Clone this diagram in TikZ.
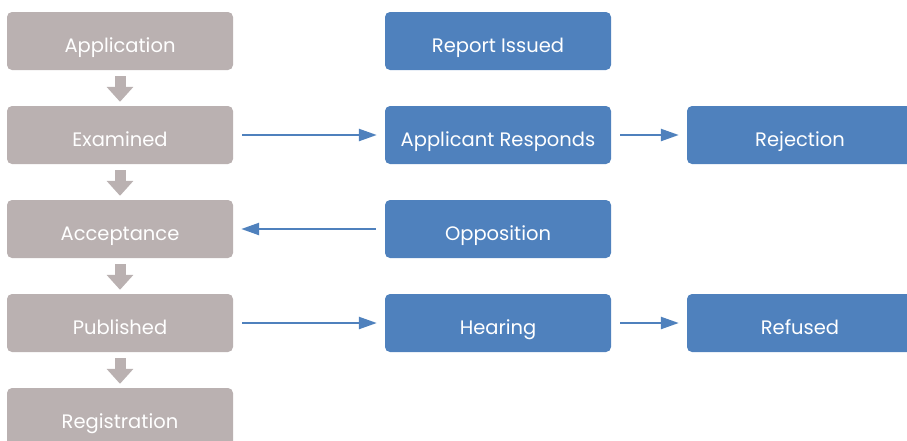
\documentclass[tikz,border=0pt]{standalone}
\usepackage{fontspec}
\setmainfont{Poppins}
\usetikzlibrary{arrows.meta}
\definecolor{boxgray}{HTML}{BAB1B1}
\definecolor{boxblue}{HTML}{4F81BD}
\tikzset{
  gbox/.style={fill=boxgray, rounded corners=5pt, minimum width=226pt, minimum height=58pt, inner sep=0pt, text=white, text height=24pt, text depth=2pt, font=\fontsize{19.5}{22}\selectfont},
  bbox/.style={gbox, fill=boxblue},
  downarr/.style={draw=boxgray, line width=11pt, -{Triangle[length=15pt,width=26pt]}, shorten <=6pt, shorten >=4pt},
  harr/.style={draw=boxblue, line width=2.4pt, -{Triangle[length=18pt,width=12pt]}, shorten <=9pt, shorten >=8pt},
}
\begin{document}
\begin{tikzpicture}[x=1pt,y=-1pt]
\useasboundingbox (0,0) rectangle (907,440);
\clip (0,0) rectangle (907,440);
\node[gbox] (app) at (120,41) {Application};
\node[gbox] (exam) at (120,135) {Examined};
\node[gbox] (acc) at (120,229) {Acceptance};
\node[gbox] (pub) at (120,323) {Published};
\node[gbox] (reg) at (120,417) {Registration};
\node[bbox] (rep) at (498,41) {Report Issued};
\node[bbox] (resp) at (498,135) {Applicant Responds};
\node[bbox] (opp) at (498,229) {Opposition};
\node[bbox] (hear) at (498,323) {Hearing};
\node[bbox] (rej) at (800,135) {Rejection};
\node[bbox] (ref) at (800,323) {Refused};
\draw[downarr] (app) -- (exam);
\draw[downarr] (exam) -- (acc);
\draw[downarr] (acc) -- (pub);
\draw[downarr] (pub) -- (reg);
\draw[harr] (exam) -- (resp);
\draw[harr] (resp) -- (rej);
\draw[harr] (opp) -- (acc);
\draw[harr] (pub) -- (hear);
\draw[harr] (hear) -- (ref);
\end{tikzpicture}
\end{document}
